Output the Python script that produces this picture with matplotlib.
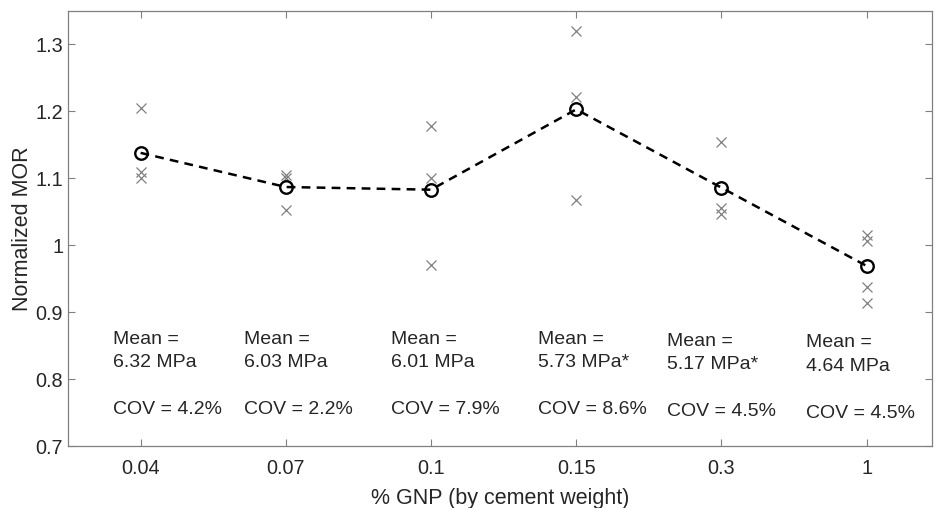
import matplotlib
matplotlib.use("Agg")
import matplotlib.pyplot as plt
import numpy as np

plt.rcParams['font.family'] = ['Liberation Sans', 'DejaVu Sans']

categories = ["0.04", "0.07", "0.1", "0.15", "0.3", "1"]
samples = [
    [1.205, 1.109, 1.101],
    [1.105, 1.100, 1.053],
    [1.178, 1.100, 0.971],
    [1.320, 1.221, 1.067],
    [1.154, 1.056, 1.046],
    [1.016, 1.006, 0.937, 0.914],
]
means = [1.138, 1.087, 1.083, 1.203, 1.086, 0.969]
mean_mpa = ["6.32 MPa", "6.03 MPa", "6.01 MPa", "5.73 MPa*", "5.17 MPa*", "4.64 MPa"]
cov = ["4.2%", "2.2%", "7.9%", "8.6%", "4.5%", "4.5%"]

text_x_off = [-0.19, -0.285, -0.275, -0.26, -0.375, -0.415]
text_y = [0.8725, 0.8725, 0.8725, 0.872, 0.869, 0.867]

fig = plt.figure(figsize=(9.35, 5.08), dpi=100)
ax = fig.add_axes([68/935, 1 - 446/508, (932-68)/935, (446-11)/508])

x = np.arange(1, len(categories) + 1)
grey = '#808080'
for xi, s in zip(x, samples):
    ax.plot([xi]*len(s), s, linestyle='none', marker='x', color=grey,
            markersize=7, markeredgewidth=0.9)
ax.plot(x, means, linestyle=(0, (3.5, 2.5)), color='black', linewidth=1.8,
        marker='o', markersize=9, markerfacecolor='none', markeredgewidth=1.7)

for xi, dx, ty, m, c in zip(x, text_x_off, text_y, mean_mpa, cov):
    ax.text(xi + dx, ty, f"Mean =\n{m}\n\nCOV = {c}", ha='left', va='top',
            fontsize=14, color='#262626', linespacing=1.5)

ax.set_xlim(0.5, 6.45)
ax.set_ylim(0.7, 1.35)
ax.set_xticks(x)
ax.set_xticklabels(categories)
ax.set_yticks([0.7, 0.8, 0.9, 1.0, 1.1, 1.2, 1.3])
ax.set_yticklabels(["0.7", "0.8", "0.9", "1", "1.1", "1.2", "1.3"])
ax.tick_params(direction='in', top=True, right=True, length=5, width=0.8,
               color=grey, labelsize=14.3, labelcolor='#262626')
ax.tick_params(axis='x', pad=9.5)
ax.tick_params(axis='y', pad=3.5)
for sp in ax.spines.values():
    sp.set_color(grey)
    sp.set_linewidth(0.9)
ax.set_xlabel("% GNP (by cement weight)", fontsize=15.5, color='#262626', labelpad=7)
ax.set_ylabel("Normalized MOR", fontsize=15.5, color='#262626', labelpad=1.5)

fig.savefig("out.png", dpi=100)
